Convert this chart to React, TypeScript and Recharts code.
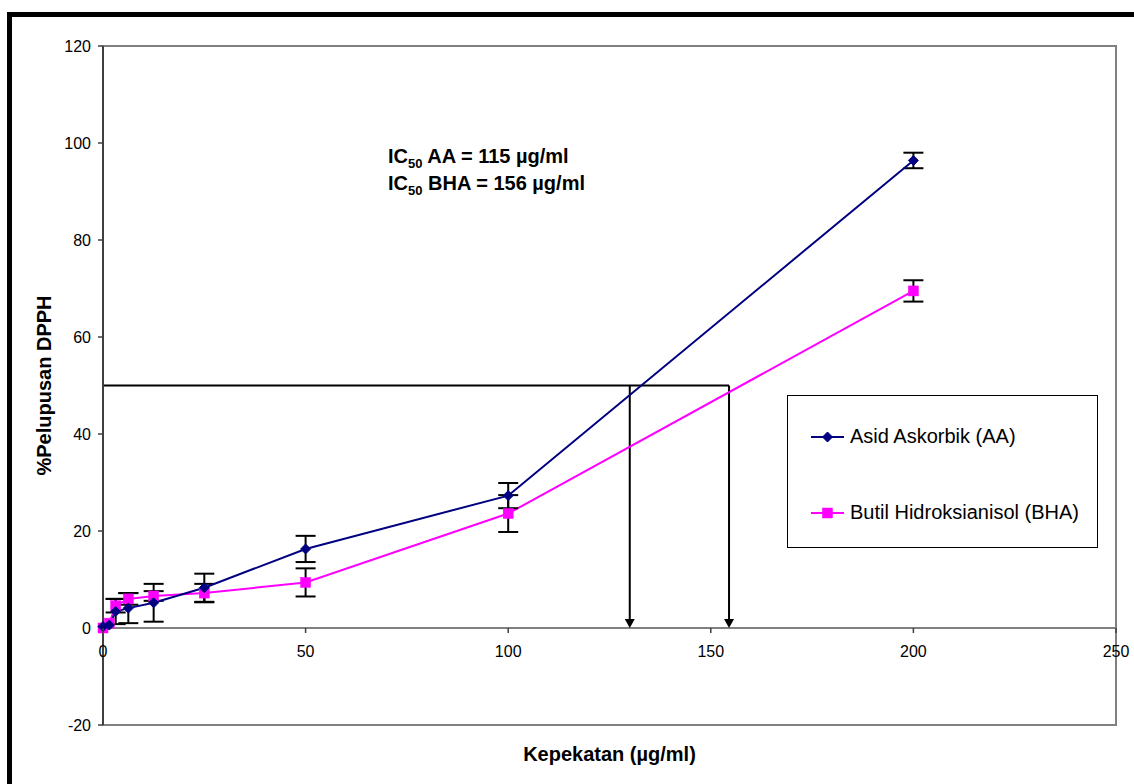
import React from 'react';
import { LineChart, Line, XAxis, YAxis, ErrorBar, ReferenceLine, ReferenceArea, Legend } from 'recharts';

// ---- data ----
const conc = [0, 1.5625, 3.125, 6.25, 12.5, 25, 50, 100, 200];
const aaValues = [0.3, 0.6, 3.4, 4.1, 5.2, 8.3, 16.3, 27.3, 96.4];
const aaErrors = [null, null, 2.6, 3.1, 3.9, 2.9, 2.7, 2.6, 1.6];
const bhaValues = [0, 1.0, 4.6, 6.0, 6.6, 7.2, 9.4, 23.6, 69.5];
const bhaErrors = [null, null, 1.4, 1.2, 1.0, 1.9, 2.9, 3.8, 2.2];
const xTicks = [0, 50, 100, 150, 200, 250];
const yTicks = [-20, 0, 20, 40, 60, 80, 100, 120];
const ic50Level = 50;
const arrowX = [130, 154.5];
const seriesNames = ['Asid Askorbik (AA)', 'Butil Hidroksianisol (BHA)'];
const annotation = [
  { label: 'AA', value: '115 µg/ml' },
  { label: 'BHA', value: '156 µg/ml' },
];

const data = conc.map((x, i) => ({
  x,
  aa: aaValues[i],
  aaErr: aaErrors[i],
  bha: bhaValues[i],
  bhaErr: bhaErrors[i],
}));

// ---- layout ----
const W = 1134;
const H = 784;
const MT = 46;
const MR = 18;
const MB = 29;
const ML = 43;
const YW = 60;
const XH = 30;
const PLOT_H = H - MT - MB - XH;
const ZERO_PX = MT + (PLOT_H * 120) / 140;
const FONT = '"Liberation Sans", Arial, Helvetica, sans-serif';
const NAVY = '#000080';
const MAGENTA = '#FF00FF';

const Diamond = (props: any) => {
  const { cx, cy, size = 5 } = props;
  if (cx == null || cy == null) return null;
  return (
    <polygon
      points={`${cx},${cy - size} ${cx + size},${cy} ${cx},${cy + size} ${cx - size},${cy}`}
      fill={NAVY}
      stroke={NAVY}
      strokeWidth={1}
    />
  );
};

const Square = (props: any) => {
  const { cx, cy, size = 5 } = props;
  if (cx == null || cy == null) return null;
  return <rect x={cx - size} y={cy - size} width={size * 2} height={size * 2} fill={MAGENTA} stroke={MAGENTA} strokeWidth={0.5} />;
};

const XTick = (props: any) => {
  const { x, payload } = props;
  return (
    <g>
      <line x1={x} x2={x} y1={ZERO_PX} y2={ZERO_PX + 5} stroke="#404040" strokeWidth={1.5} />
      <text x={x} y={ZERO_PX + 29} textAnchor="middle" fontSize={16} fontFamily={FONT} fill="#000">
        {payload.value}
      </text>
    </g>
  );
};

const Arrow = (props: any) => {
  const { x1, y1, x2, y2 } = props;
  if (x1 == null) return null;
  const top = Math.min(y1, y2);
  const bottom = Math.max(y1, y2);
  const x = x1;
  return (
    <g>
      <line x1={x} x2={x} y1={top} y2={bottom - 8} stroke="#000" strokeWidth={2} />
      <polygon points={`${x - 5},${bottom - 9} ${x + 5},${bottom - 9} ${x},${bottom}`} fill="#000" />
    </g>
  );
};

const LegendBox = (props: any) => {
  const items = props.payload || [];
  return (
    <div
      style={{
        boxSizing: 'border-box',
        width: 311,
        height: 153,
        border: '1px solid #000',
        background: '#fff',
        position: 'relative',
        fontFamily: FONT,
        fontSize: 20,
      }}
    >
      {items.map((item: any, i: number) => {
        const top = i === 0 ? 41 : 117;
        return (
          <div key={i} style={{ position: 'absolute', left: 0, top: top - 15, height: 30, width: 311 }}>
            <svg width={60} height={30} style={{ position: 'absolute', left: 0, top: 0 }}>
              <line x1={23} x2={56} y1={15} y2={15} stroke={item.color} strokeWidth={2} />
              {i === 0 ? <Diamond cx={39.5} cy={15} size={5} /> : <Square cx={39.5} cy={15} size={5} />}
            </svg>
            <span style={{ position: 'absolute', left: 62, top: 3, lineHeight: '23px', whiteSpace: 'nowrap', color: '#000' }}>
              {item.value}
            </span>
          </div>
        );
      })}
    </div>
  );
};

export default function App() {
  return (
    <div style={{ position: 'relative', width: W, height: H, overflow: 'hidden', background: '#fff' }}>
      <style>{'body{margin:0;overflow:hidden;background:#fff}'}</style>
      <div
        style={{
          position: 'absolute',
          left: 7,
          top: 12,
          width: 1300,
          height: 900,
          border: '5px solid #000',
          boxSizing: 'border-box',
        }}
      />
      <div style={{ position: 'absolute', left: 0, top: 0 }}>
        <LineChart width={W} height={H} data={data} margin={{ top: MT, right: MR, bottom: MB, left: ML }}>
          <ReferenceArea x1={0} x2={250} y1={-20} y2={120} fill="none" stroke="#808080" strokeWidth={2} ifOverflow="visible" />
          <XAxis
            type="number"
            dataKey="x"
            domain={[0, 250]}
            ticks={xTicks}
            height={XH}
            axisLine={false}
            tickLine={false}
            tick={<XTick />}
            interval={0}
            label={{
              content: () => (
                <text
                  x={ML + YW + (W - ML - YW - MR) / 2}
                  y={H - 23}
                  textAnchor="middle"
                  fontSize={20}
                  fontWeight="bold"
                  fontFamily={FONT}
                  fill="#000"
                >
                  Kepekatan (µg/ml)
                </text>
              ),
            }}
          />
          <YAxis
            type="number"
            domain={[-20, 120]}
            ticks={yTicks}
            width={YW}
            interval={0}
            axisLine={{ stroke: '#404040', strokeWidth: 2 }}
            tickLine={{ stroke: '#404040', strokeWidth: 1.5 }}
            tickSize={5}
            tickMargin={7}
            tick={{ fontSize: 16, fontFamily: FONT, fill: '#000' }}
            label={{
              content: () => {
                const cx = 51;
                const cy = MT + PLOT_H / 2;
                return (
                  <text
                    x={cx}
                    y={cy}
                    transform={`rotate(-90, ${cx}, ${cy})`}
                    textAnchor="middle"
                    fontSize={20}
                    fontWeight="bold"
                    fontFamily={FONT}
                    fill="#000"
                  >
                    %Pelupusan DPPH
                  </text>
                );
              },
            }}
          />
          <ReferenceLine y={0} stroke="#808080" strokeWidth={2} />
          <ReferenceLine
            segment={[
              { x: 0, y: ic50Level },
              { x: arrowX[1], y: ic50Level },
            ]}
            stroke="#000"
            strokeWidth={2}
          />
          {arrowX.map((ax) => (
            <ReferenceLine
              key={ax}
              segment={[
                { x: ax, y: ic50Level },
                { x: ax, y: 0 },
              ]}
              shape={(p: any) => <Arrow {...p} />}
            />
          ))}
          <Line
            type="linear"
            dataKey="bha"
            name={seriesNames[1]}
            stroke={MAGENTA}
            strokeWidth={2}
            dot={(p: any) => <Square key={`b${p.index}`} cx={p.cx} cy={p.cy} size={5} />}
            activeDot={false}
            isAnimationActive={false}
          >
            <ErrorBar dataKey="bhaErr" width={10} stroke="#000" strokeWidth={2} direction="y" isAnimationActive={false} />
          </Line>
          <Line
            type="linear"
            dataKey="aa"
            name={seriesNames[0]}
            stroke={NAVY}
            strokeWidth={2}
            dot={(p: any) => <Diamond key={`a${p.index}`} cx={p.cx} cy={p.cy} size={5} />}
            activeDot={false}
            isAnimationActive={false}
          >
            <ErrorBar dataKey="aaErr" width={10} stroke="#000" strokeWidth={2} direction="y" isAnimationActive={false} />
          </Line>
          <Legend
            layout="vertical"
            align="center"
            verticalAlign="middle"
            payload={[
              { value: seriesNames[0], type: 'line', color: NAVY, id: 'aa' },
              { value: seriesNames[1], type: 'line', color: MAGENTA, id: 'bha' },
            ]}
            content={(p: any) => <LegendBox {...p} />}
            wrapperStyle={{ position: 'absolute', left: 787, top: 395, width: 311, height: 153 }}
          />
          <g>
            {annotation.map((a, i) => (
              <text key={a.label} x={388} y={163 + i * 27} fontSize={20} fontWeight="bold" fontFamily={FONT} fill="#000">
                IC
                <tspan fontSize={13} dy={5}>
                  50
                </tspan>
                <tspan dy={-5}>{` ${a.label} = ${a.value}`}</tspan>
              </text>
            ))}
          </g>
        </LineChart>
      </div>
    </div>
  );
}
